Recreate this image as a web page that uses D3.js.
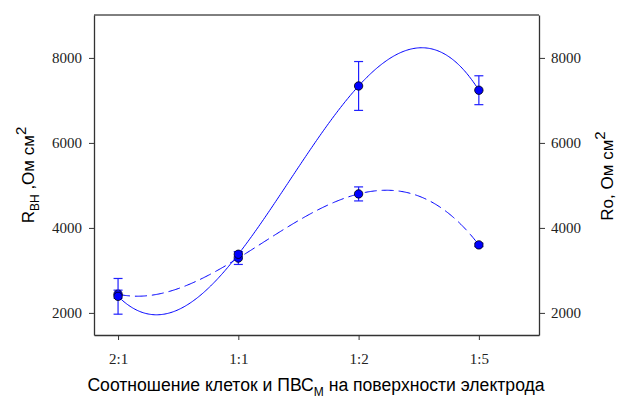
<!DOCTYPE html>
<html>
<head>
<meta charset="utf-8">
<script src="https://cdn.jsdelivr.net/npm/d3@7"></script>
<style>
  body { margin: 0; background: #fff; }
  .lbl { font-family: "Liberation Sans", Arial, sans-serif; font-size: 17px; fill: #000; }
</style>
</head>
<body>
<div id="chart"></div>
<script>
// categories on the x axis (positions 1..4)
const categories = ['2:1', '1:1', '1:2', '1:5'];
const catPos = [1, 2, 3, 4];

// R_BH series (solid line, left axis)
const rbhValues = [2390, 3380, 7340, 7240];
const rbhErr = [420, 60, 575, 340];

// Ro series (dashed line, right axis)
const roValues = [2440, 3290, 4800, 3600];
const roErr = [95, 150, 165, 40];

const yTicks = [2000, 4000, 6000, 8000];

const width = 617;
const height = 398;
const plot = { left: 94, right: 539, top: 15, bottom: 335 };

const svg = d3.select('#chart')
  .append('svg')
  .attr('width', width)
  .attr('height', height);

const x = d3.scaleLinear().domain([0.8, 4.5]).range([plot.left, plot.right]);
const y = d3.scaleLinear().domain([1480, 9010]).range([plot.bottom, plot.top]);
const y2 = d3.scaleLinear().domain([1480, 9010]).range([plot.bottom, plot.top]);

// cubic polynomial through the four points (the fitted curve of the original plot)
function cubicThrough(xs, ys) {
  return t => {
    let s = 0;
    for (let i = 0; i < xs.length; i++) {
      let term = ys[i];
      for (let j = 0; j < xs.length; j++) {
        if (j !== i) term *= (t - xs[j]) / (xs[i] - xs[j]);
      }
      s += term;
    }
    return s;
  };
}

const samples = d3.range(0, 301).map(i => 1 + i * 3 / 300);

function drawSeries(values, errs, yScale, dash) {
  const f = cubicThrough(catPos, values);
  const line = d3.line()
    .x(t => x(t))
    .y(t => yScale(f(t)));

  svg.append('path')
    .datum(samples)
    .attr('fill', 'none')
    .attr('stroke', '#0000ff')
    .attr('stroke-width', 1)
    .attr('stroke-dasharray', dash)
    .attr('d', line);

  // error bars
  const eb = svg.append('g')
    .attr('stroke', '#2020ff')
    .attr('stroke-width', 1.2);
  catPos.forEach((p, i) => {
    const cx = x(p);
    const top = yScale(values[i] + errs[i]);
    const bot = yScale(values[i] - errs[i]);
    eb.append('line').attr('x1', cx).attr('x2', cx).attr('y1', top).attr('y2', bot);
    eb.append('line').attr('x1', cx - 4.5).attr('x2', cx + 4.5).attr('y1', top).attr('y2', top);
    eb.append('line').attr('x1', cx - 4.5).attr('x2', cx + 4.5).attr('y1', bot).attr('y2', bot);
  });

  // points
  svg.append('g')
    .selectAll('circle')
    .data(values)
    .enter().append('circle')
    .attr('cx', (d, i) => x(catPos[i]))
    .attr('cy', d => yScale(d))
    .attr('r', 4.2)
    .attr('fill', '#0000ff')
    .attr('stroke', '#000')
    .attr('stroke-width', 0.8);
}

drawSeries(roValues, roErr, y2, '12,5');
drawSeries(rbhValues, rbhErr, y, null);

// frame
svg.append('line')
  .attr('x1', plot.left).attr('x2', plot.right)
  .attr('y1', plot.top).attr('y2', plot.top)
  .attr('stroke', '#000').attr('stroke-width', 1);

// axes
const xAxis = d3.axisBottom(x)
  .tickValues(catPos)
  .tickFormat((d, i) => categories[i])
  .tickSize(5)
  .tickPadding(13)
  .tickSizeOuter(0);
const yAxis = d3.axisLeft(y).tickValues(yTicks).tickFormat(d3.format('d'))
  .tickSize(5).tickPadding(7).tickSizeOuter(0);
const yAxis2 = d3.axisRight(y2).tickValues(yTicks).tickFormat(d3.format('d'))
  .tickSize(6).tickPadding(6).tickSizeOuter(0);

const gx = svg.append('g')
  .attr('transform', `translate(0,${plot.bottom})`)
  .call(xAxis);
const gy = svg.append('g')
  .attr('transform', `translate(${plot.left},0)`)
  .call(yAxis);
const gy2 = svg.append('g')
  .attr('transform', `translate(${plot.right},0)`)
  .call(yAxis2);

[gx, gy, gy2].forEach(g => {
  g.attr('font-family', '"Liberation Serif", "Times New Roman", serif').attr('font-size', 15);
  g.select('.domain').attr('stroke', '#333').attr('stroke-width', 1.3);
  g.selectAll('.tick line').attr('stroke', '#333');
  g.selectAll('.tick text').attr('fill', '#222');
});

// axis titles
const xt = svg.append('text')
  .attr('class', 'lbl')
  .attr('font-size', 17.6)
  .style('font-size', '17.6px')
  .attr('x', 316)
  .attr('y', 391)
  .attr('text-anchor', 'middle');
xt.append('tspan').text('Соотношение клеток и ПВС');
xt.append('tspan').style('font-size', '12px').attr('dy', 5).text('М');
xt.append('tspan').attr('dy', -5).text(' на поверхности электрода');

const yl = svg.append('text')
  .attr('class', 'lbl')
  .attr('transform', 'translate(34,175) rotate(-90)')
  .attr('text-anchor', 'middle');
yl.append('tspan').text('R');
yl.append('tspan').style('font-size', '12px').attr('dy', 5).text('ВН');
yl.append('tspan').attr('dy', -5).text(' ,Ом см');
yl.append('tspan').style('font-size', '15px').attr('dy', -8).text('2');

const yr = svg.append('text')
  .attr('class', 'lbl')
  .attr('transform', 'translate(613,176) rotate(-90)')
  .attr('text-anchor', 'middle');
yr.append('tspan').text('Ro, Ом см');
yr.append('tspan').style('font-size', '15px').attr('dy', -8).text('2');
</script>
</body>
</html>
